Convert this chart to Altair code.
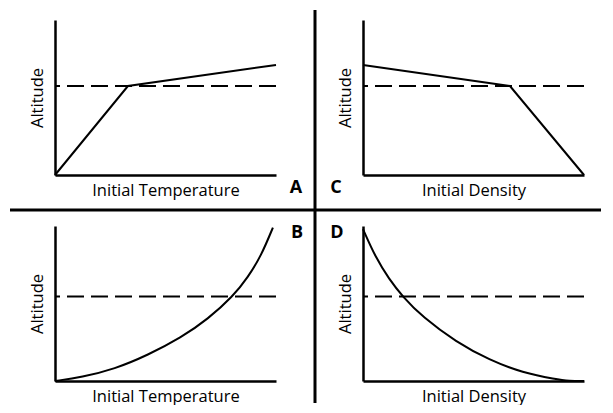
import altair as alt
import pandas as pd

# ---- data (normalised schematic values, 0..1 on both axes) ----
# Panel A: altitude vs initial temperature (piecewise linear)
a_x = [0.0, 0.33, 1.0]
a_y = [0.0, 0.574, 0.71]
# Panel C: altitude vs initial density (piecewise linear)
c_x = [0.0, 0.665, 1.0]
c_y = [0.71, 0.574, 0.0]
# Panel B: altitude vs initial temperature (curve)
b_x = [0.0, 0.12, 0.27, 0.42, 0.571, 0.692, 0.805, 0.873, 0.933, 0.986]
b_y = [0.0, 0.024, 0.077, 0.167, 0.28, 0.40, 0.545, 0.67, 0.808, 0.99]
# Panel D: altitude vs initial density (curve)
d_x = [0.0, 0.057, 0.118, 0.179, 0.270, 0.421, 0.572, 0.723, 0.873, 0.933, 1.0]
d_y = [0.98, 0.797, 0.658, 0.545, 0.412, 0.252, 0.135, 0.053, 0.011, 0.0, 0.0]
# dashed reference altitude (top row, bottom row)
ref_levels = [0.574, 0.545]
x_titles = ["Initial Temperature", "Initial Density"]
y_title = "Altitude"
letters = ["A", "B", "C", "D"]

FONT = "Open Sans"
W, H = 221, 155


def axis(title, pad):
    return alt.Axis(title=title, labels=False, ticks=False, grid=False,
                    domainColor="black", domainWidth=2.5,
                    titleFont=FONT, titleFontSize=16.5, titleFontWeight="normal",
                    titleColor="black", titlePadding=pad)


def panel(xs, ys, ref, xtitle, letter, lx, ly, interp, extra=()):
    df = pd.DataFrame({"x": xs, "y": ys})
    sx = alt.Scale(domain=[0, 1], nice=False, zero=False)
    sy = alt.Scale(domain=[0, 1], nice=False, zero=False)
    line = alt.Chart(df).mark_line(color="black", strokeWidth=2,
                                   interpolate=interp).encode(
        x=alt.X("x:Q", scale=sx, axis=axis(xtitle, 7)),
        y=alt.Y("y:Q", scale=sy, axis=axis(y_title, 10)),
    )
    dash = alt.Chart(pd.DataFrame({"y": [ref]})).mark_rule(
        color="black", strokeWidth=2, strokeDash=[17, 7]).encode(
        y=alt.Y("y:Q", scale=sy))
    lab = alt.Chart(alt.Data(values=[{"t": letter}])).mark_text(
        font=FONT, fontSize=18, fontWeight="bold", color="black",
        align="center", baseline="middle").encode(
        x=alt.value(lx), y=alt.value(ly), text="t:N")
    return alt.layer(dash, line, lab, *extra).properties(width=W, height=H)


# divider lines (decoration, drawn from panel A)
blank = alt.Data(values=[{"d": 1}])
hdiv = alt.Chart(blank).mark_rule(color="black", strokeWidth=3).encode(
    x=alt.value(-45), x2=alt.value(546), y=alt.value(190))
vdiv = alt.Chart(blank).mark_rule(color="black", strokeWidth=3).encode(
    x=alt.value(260), y=alt.value(-10), y2=alt.value(383))

pA = panel(a_x, a_y, ref_levels[0], x_titles[0], letters[0], 241, 168, "linear",
           extra=(hdiv, vdiv))
pC = panel(c_x, c_y, ref_levels[0], x_titles[1], letters[2], -27, 168, "linear")
pB = panel(b_x, b_y, ref_levels[1], x_titles[0], letters[1], 242, 7, "basis")
pD = panel(d_x, d_y, ref_levels[1], x_titles[1], letters[3], -26, 7, "basis")

chart = alt.concat(pA, pC, pB, pD, columns=2,
                   spacing={"row": 51, "column": 87}, bounds="flush").properties(
    padding={"left": 0, "top": 0, "right": 0, "bottom": 0},
    background="white",
).configure_view(stroke=None)

chart.save("out.html", embed_options={"renderer": "svg", "actions": False})
